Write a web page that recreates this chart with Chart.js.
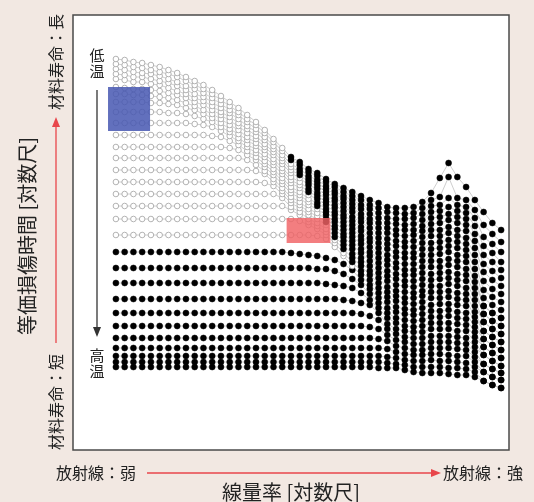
<!DOCTYPE html>
<html>
<head>
<meta charset="utf-8">
<script src="https://cdn.jsdelivr.net/npm/chart.js@4.4.0/dist/chart.umd.min.js"></script>
<style>
  html, body { margin: 0; padding: 0; background: #f2e8e2; }
  #wrap { width: 534px; height: 502px; }
</style>
</head>
<body>
<div id="wrap"><canvas id="chart-damage" width="534" height="502"></canvas></div>
<script>
// 線量率 (log10, 相対値)
const doseRate = [-2.0, -1.9, -1.8, -1.7, -1.6, -1.5, -1.4, -1.3, -1.2, -1.1,
  -1.0, -0.9, -0.8, -0.7, -0.6, -0.5, -0.4, -0.3, -0.2, -0.1,
  0.0, 0.1, 0.2, 0.3, 0.4, 0.5, 0.6, 0.7, 0.8, 0.9,
  1.0, 1.1, 1.2, 1.3, 1.4, 1.5, 1.6, 1.7, 1.8, 1.9,
  2.0, 2.1, 2.2, 2.3, 2.4];

// 等価損傷時間 (対数尺, 相対値) : 低温 -> 高温
const curve01 = [391,390,388,387,385,383,380,377,373,369,365,360,354,348,342,335,328,320,311,302,293,288,281,277,271,266,262,258,254,250,247,243,242,242,243,248,257,272,287,273,263,250,238,227,220];
const curve02 = [386,385,383,382,380,378,376,373,369,365,361,356,350,344,338,331,325,317,308,299,290,285,278,274,268,263,258,254,250,245,242,238,237,236,237,242,250,253,273,252,250,240,225,216,208];
const curve03 = [381,380,378,377,376,374,371,368,364,361,357,352,346,340,335,328,321,313,304,295,286,281,274,270,264,259,254,250,245,241,237,232,231,231,232,236,244,245,252,245,243,232,213,206,198];
const curve04 = [376,375,373,373,371,369,367,364,360,356,353,348,342,337,331,324,318,310,301,292,283,278,271,267,261,256,251,246,241,236,232,227,226,225,226,230,238,239,243,239,237,224,204,197,188];
const curve05 = [371,370,368,368,366,365,362,359,356,352,349,344,338,333,327,321,314,306,298,289,280,275,268,264,258,252,247,242,236,231,227,222,220,220,220,224,232,233,236,233,231,216,195,188,180];
const curve06 = [363,362,361,361,360,359,357,355,352,348,345,340,335,329,324,317,311,303,295,286,277,272,265,261,255,249,243,238,232,227,222,217,215,214,215,219,226,227,230,227,225,209,186,179,172];
const curve07 = [356,356,355,355,354,353,352,350,347,344,340,336,331,325,320,313,307,300,291,282,273,268,261,257,251,245,239,233,228,222,217,211,209,208,209,213,220,220,223,220,219,202,178,170,164];
const curve08 = [348,348,348,348,347,347,346,345,342,340,336,332,327,321,316,310,304,296,288,279,270,265,258,254,248,242,235,229,223,217,212,206,204,203,203,207,214,214,217,214,212,195,169,161,156];
const curve09 = [338,338,338,338,338,338,337,337,336,334,331,328,323,318,312,306,300,293,285,276,267,262,255,251,245,238,232,225,219,212,207,201,198,197,197,201,207,208,210,208,206,188,160,153,148];
const curve10 = [327,327,327,327,327,327,327,327,327,326,325,323,319,314,309,303,297,289,281,272,263,258,251,247,241,235,228,221,214,208,202,195,193,192,192,195,201,202,204,202,200,181,152,145,140];
const curve11 = [315,315,315,315,315,315,315,315,315,315,315,314,313,309,305,299,293,286,278,269,260,255,248,244,238,231,224,217,210,203,197,190,187,186,186,189,195,196,198,195,194,174,144,137,132];
const curve12 = [303,303,303,303,303,303,303,303,303,303,303,303,303,302,300,295,290,283,275,266,257,252,245,241,235,228,220,213,206,198,192,185,182,180,180,183,189,189,191,189,188,168,144,137,132];
const curve13 = [292,292,292,292,292,292,292,292,292,292,292,292,292,292,292,290,285,279,271,262,253,248,241,237,231,224,216,209,201,194,187,179,176,175,175,177,183,183,185,183,181,162,136,129,124];
const curve14 = [280,280,280,280,280,280,280,280,280,280,280,280,280,280,280,280,279,276,268,259,250,245,238,234,228,221,213,205,197,189,182,174,171,169,169,171,176,177,178,176,175,156,136,129,124];
const curve15 = [268,268,268,268,268,268,268,268,268,268,268,268,268,268,268,268,268,267,264,256,247,242,235,231,225,217,209,201,192,184,177,169,165,164,163,165,170,171,172,170,169,150,128,121,116];
const curve16 = [256,256,256,256,256,256,256,256,256,256,256,256,256,256,256,256,256,256,256,252,243,238,231,227,221,213,205,196,188,179,172,163,159,158,157,159,164,164,166,164,162,144,128,121,116];
const curve17 = [244,244,244,244,244,244,244,244,244,244,244,244,244,244,244,244,244,244,244,244,240,235,228,224,218,210,201,192,184,175,167,158,154,152,152,154,158,158,159,157,156,138,119,113,108];
const curve18 = [231,231,231,231,231,231,231,231,231,231,231,231,231,231,231,231,231,231,231,231,231,229,225,221,215,207,197,188,179,170,162,153,149,147,146,148,152,152,153,151,150,133,119,113,108];
const curve19 = [215,215,215,215,215,215,215,215,215,215,215,215,215,215,215,215,215,215,215,215,215,215,215,214,211,203,194,184,175,165,157,148,143,141,140,142,145,146,146,145,144,128,111,105,100];
const curve20 = [198,198,198,198,198,198,198,198,198,198,198,198,198,198,198,198,198,198,198,198,197,196,195,194,192,190,186,180,170,161,152,142,138,136,135,136,139,139,140,138,137,123,111,105,100];
const curve21 = [182,182,182,182,182,182,182,182,182,182,182,182,182,182,182,182,182,182,182,182,182,182,182,181,181,179,176,171,165,156,147,137,132,130,129,130,133,133,134,132,131,118,103,97,92];
const curve22 = [167,167,167,167,167,167,167,167,167,167,167,167,167,167,167,167,167,167,167,167,167,167,167,167,166,165,164,162,157,150,142,132,127,124,123,124,127,127,127,126,125,113,103,97,92];
const curve23 = [151,151,151,151,151,151,151,151,151,151,151,151,151,151,151,151,151,151,151,151,151,151,151,151,151,151,150,149,147,145,137,126,121,119,118,118,121,121,121,119,119,108,95,89,84];
const curve24 = [137,137,137,137,137,137,137,137,137,137,137,137,137,137,137,137,137,137,137,137,137,137,137,137,137,137,137,137,136,134,130,121,116,113,112,112,114,114,114,113,112,103,95,89,84];
const curve25 = [124,124,124,124,124,124,124,124,124,124,124,124,124,124,124,124,124,124,124,124,124,124,124,124,124,124,124,124,124,123,121,115,110,108,106,106,108,108,108,107,106,98,86,81,77];
const curve26 = [112,112,112,112,112,112,112,112,112,112,112,112,112,112,112,112,112,112,112,112,112,112,112,112,112,112,112,112,112,112,111,109,104,102,100,100,102,102,102,101,100,93,86,81,77];
const curve27 = [102,102,102,102,102,102,102,102,102,102,102,102,102,102,102,102,102,102,102,102,102,102,102,102,102,102,102,102,102,102,102,101,98,96,95,95,96,96,95,94,94,88,78,73,70];
const curve28 = [94,94,94,94,94,94,94,94,94,94,94,94,94,94,94,94,94,94,94,94,94,94,94,94,94,94,94,94,94,94,94,93,92,90,89,89,90,89,89,88,87,83,78,73,70];
const curve29 = [88,88,88,88,88,88,88,88,88,88,88,88,88,88,88,88,88,88,88,88,88,88,88,88,88,88,88,88,88,88,88,87,86,85,83,83,83,83,82,82,81,78,69,65,62];
const curve30 = [83,83,83,83,83,83,83,83,83,83,83,83,83,83,83,83,83,83,83,83,83,83,83,83,83,83,83,83,83,83,82,82,82,80,78,77,77,77,76,75,75,73,69,65,62];

// index of the first filled (black) point on each curve; earlier points are hollow
const filledFrom = [20, 20, 21, 21, 21, 22, 22, 22, 23, 23, 23, 24, 24, 24, 25, 25, 26, 27, 28,
  0, 0, 0, 0, 0, 0, 0, 0, 0, 0, 0];

// highlighted regions [x0, x1, y0, y1] in data units
const blueBox = [-2.09, -1.61, 319, 363];
const redBox = [-0.05, 0.45, 207, 232];

const curves = [curve01, curve02, curve03, curve04, curve05, curve06, curve07, curve08, curve09, curve10,
  curve11, curve12, curve13, curve14, curve15, curve16, curve17, curve18, curve19, curve20,
  curve21, curve22, curve23, curve24, curve25, curve26, curve27, curve28, curve29, curve30];

let datasets = [];
// connecting lines first (behind every marker)
curves.forEach(function (c) {
    datasets.push({
        data: c.map(function (v, i) { return {x: doseRate[i], y: v}; }),
        showLine: true,
        borderColor: '#c2c2c2',
        borderWidth: 0.8,
        pointRadius: 0,
        order: 2
    });
});
// markers
curves.forEach(function (c, k) {
    let filled = c.map(function (v, i) { return i >= filledFrom[k]; });
    datasets.push({
        data: c.map(function (v, i) { return {x: doseRate[i], y: v}; }),
        showLine: false,
        pointRadius: filled.map(function (f) { return f ? 3.0 : 2.8; }),
        pointBackgroundColor: filled.map(function (f) { return f ? '#000' : '#fff'; }),
        pointBorderColor: filled.map(function (f) { return f ? '#000' : '#aaaaaa'; }),
        pointBorderWidth: filled.map(function (f) { return f ? 0.5 : 0.9; }),
        order: 1
    });
});

function arrow(ctx, x0, y0, x1, y1, color) {
    let a = Math.atan2(y1 - y0, x1 - x0);
    ctx.save();
    ctx.strokeStyle = color;
    ctx.fillStyle = color;
    ctx.lineWidth = 1.3;
    ctx.beginPath();
    ctx.moveTo(x0, y0);
    ctx.lineTo(x1 - 8 * Math.cos(a), y1 - 8 * Math.sin(a));
    ctx.stroke();
    ctx.beginPath();
    ctx.moveTo(x1, y1);
    ctx.lineTo(x1 - 10 * Math.cos(a) + 4 * Math.sin(a), y1 - 10 * Math.sin(a) - 4 * Math.cos(a));
    ctx.lineTo(x1 - 10 * Math.cos(a) - 4 * Math.sin(a), y1 - 10 * Math.sin(a) + 4 * Math.cos(a));
    ctx.closePath();
    ctx.fill();
    ctx.restore();
}

function text(ctx, str, x, y, size, rot, align) {
    ctx.save();
    ctx.translate(x, y);
    if (rot) ctx.rotate(rot);
    ctx.font = size + 'px "Noto Sans CJK JP", "Noto Sans", sans-serif';
    ctx.fillStyle = '#222';
    ctx.textAlign = align || 'center';
    ctx.textBaseline = 'middle';
    ctx.fillText(str, 0, 0);
    ctx.restore();
}

const framePlugin = {
    id: 'frame',
    beforeDraw: function (chart) {
        let ctx = chart.ctx, a = chart.chartArea;
        ctx.save();
        ctx.fillStyle = '#f2e8e2';
        ctx.fillRect(0, 0, chart.width, chart.height);
        ctx.fillStyle = '#ffffff';
        ctx.fillRect(a.left, a.top, a.right - a.left, a.bottom - a.top);
        ctx.restore();
    },
    afterDatasetsDraw: function (chart) {
        let ctx = chart.ctx, xs = chart.scales.x, ys = chart.scales.y;
        [[blueBox, 'rgba(72, 88, 178, 0.86)'], [redBox, 'rgba(240, 98, 100, 0.82)']].forEach(function (b) {
            let r = b[0];
            let x0 = xs.getPixelForValue(r[0]), x1 = xs.getPixelForValue(r[1]);
            let y0 = ys.getPixelForValue(r[3]), y1 = ys.getPixelForValue(r[2]);
            ctx.save();
            ctx.fillStyle = b[1];
            ctx.fillRect(x0, y0, x1 - x0, y1 - y0);
            ctx.restore();
        });
    },
    afterDraw: function (chart) {
        let ctx = chart.ctx, a = chart.chartArea;
        ctx.save();
        ctx.strokeStyle = '#4a4a4a';
        ctx.lineWidth = 1.5;
        ctx.strokeRect(a.left, a.top, a.right - a.left, a.bottom - a.top);
        ctx.restore();

        // 温度の矢印
        text(ctx, '低', 97, 55, 15);
        text(ctx, '温', 97, 71, 15);
        arrow(ctx, 97, 90, 97, 337, '#333');
        text(ctx, '高', 97, 355, 15);
        text(ctx, '温', 97, 371, 15);

        // 縦軸
        text(ctx, '等価損傷時間 [対数尺]', 27, 236, 20, -Math.PI / 2);
        text(ctx, '材料寿命：長', 56, 62, 16, -Math.PI / 2);
        text(ctx, '材料寿命：短', 56, 402, 16, -Math.PI / 2);
        arrow(ctx, 56, 343, 56, 117, '#e8464b');

        // 横軸
        text(ctx, '放射線：弱', 56, 473, 16, 0, 'left');
        text(ctx, '放射線：強', 443, 473, 16, 0, 'left');
        arrow(ctx, 147, 473, 441, 473, '#e8464b');
        text(ctx, '線量率 [対数尺]', 291, 492, 20);
    }
};

let ctxDamage = document.getElementById('chart-damage');
let chartDamage = new Chart(ctxDamage, {
    type: 'scatter',
    data: {datasets: datasets},
    options: {
        responsive: false,
        animation: false,
        devicePixelRatio: 1,
        layout: {padding: {left: 73, right: 25, top: 15, bottom: 52}},
        plugins: {legend: {display: false}, tooltip: {enabled: false}},
        scales: {
            x: {type: 'linear', min: -2.49, max: 2.49, display: false},
            y: {type: 'linear', min: 0, max: 435, display: false}
        }
    },
    plugins: [framePlugin]
});
</script>
</body>
</html>
